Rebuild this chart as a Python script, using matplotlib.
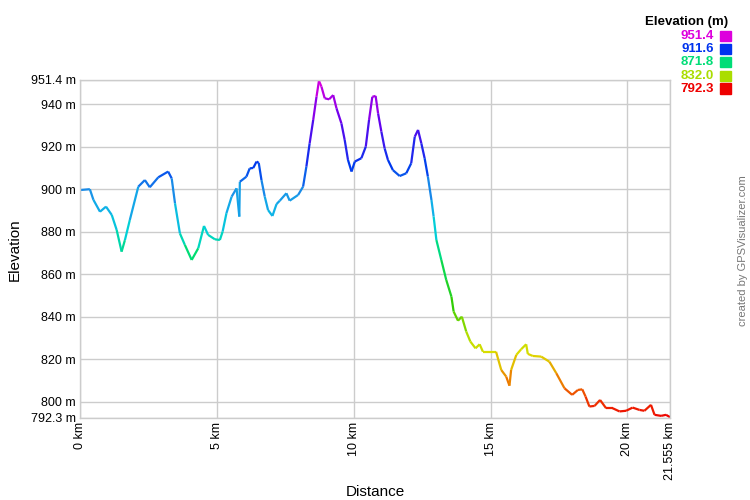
import numpy as np
import matplotlib
matplotlib.use("Agg")
import matplotlib.pyplot as plt
from matplotlib.collections import LineCollection
from matplotlib.colors import LinearSegmentedColormap

plt.rcParams["font.family"] = ["Liberation Sans", "DejaVu Sans"]

# elevation profile
dist_km = [0.0, 0.36, 0.49, 0.73, 0.95, 1.16, 1.34, 1.52, 1.64, 1.82, 2.13, 2.37, 2.55, 2.86,
           3.22, 3.35, 3.47, 3.65, 3.83, 4.08, 4.32, 4.53, 4.68, 4.93, 5.11, 5.21, 5.35, 5.54,
           5.72, 5.82, 5.84, 6.08, 6.2, 6.33, 6.45, 6.53, 6.63, 6.75, 6.87, 7.03, 7.18, 7.3,
           7.54, 7.66, 7.97, 8.15, 8.27, 8.39, 8.52, 8.64, 8.73, 8.82, 8.94, 9.1, 9.25, 9.37,
           9.55, 9.67, 9.79, 9.92, 10.04, 10.28, 10.44, 10.56, 10.68, 10.8, 10.89, 11.01, 11.13,
           11.25, 11.43, 11.68, 11.92, 12.1, 12.23, 12.35, 12.47, 12.59, 12.71, 12.84, 12.92,
           13.02, 13.2, 13.38, 13.57, 13.65, 13.81, 13.95, 14.11, 14.26, 14.45, 14.6, 14.72,
           14.96, 15.2, 15.39, 15.57, 15.69, 15.75, 15.94, 16.12, 16.3, 16.36, 16.54, 16.85,
           17.15, 17.4, 17.7, 17.98, 18.19, 18.35, 18.47, 18.61, 18.8, 19.0, 19.22, 19.46,
           19.71, 19.95, 20.19, 20.44, 20.62, 20.86, 20.99, 21.23, 21.41, 21.555]
elev_m = [899.6, 900.0, 895.0, 889.4, 891.8, 887.9, 880.8, 870.6, 876.0, 885.5, 901.2, 904.3,
          900.9, 905.6, 908.3, 905.1, 893.4, 879.2, 873.8, 866.7, 872.2, 882.7, 878.5, 876.4,
          876.1, 880.0, 888.7, 896.5, 900.4, 887.1, 903.5, 905.9, 909.8, 910.0, 913.0, 912.4,
          904.3, 896.5, 890.2, 887.4, 893.0, 894.6, 898.1, 894.6, 897.3, 901.2, 910.6, 921.6,
          932.6, 943.5, 951.0, 948.3, 942.8, 942.3, 944.3, 938.1, 931.0, 923.2, 913.8, 908.3,
          913.0, 914.6, 920.0, 932.6, 943.5, 943.9, 935.7, 927.1, 919.2, 913.8, 909.0, 906.2,
          907.5, 912.2, 924.7, 927.9, 921.6, 914.6, 905.9, 894.9, 887.1, 876.1, 866.7, 857.3,
          849.4, 842.4, 838.1, 840.0, 833.0, 828.3, 825.1, 827.0, 823.5, 823.5, 823.5, 814.9,
          811.8, 807.5, 814.9, 822.0, 824.7, 827.0, 822.5, 821.5, 821.2, 818.8, 813.4, 806.3,
          803.2, 805.5, 805.8, 802.4, 797.7, 798.0, 800.8, 796.9, 796.9, 795.4, 795.7, 797.2,
          796.1, 795.7, 798.5, 793.8, 793.3, 793.8, 792.7]

y_min, y_max = 792.3, 951.4
x_max = 21.555
y_ticks = [792.3, 800, 820, 840, 860, 880, 900, 920, 940, 951.4]
y_labels = ["792.3 m", "800 m", "820 m", "840 m", "860 m", "880 m", "900 m", "920 m", "940 m", "951.4 m"]
x_ticks = [0, 5, 10, 15, 20, 21.555]
x_labels = ["0 km", "5 km", "10 km", "15 km", "20 km", "21.555 km"]
legend_vals = ["951.4", "911.6", "871.8", "832.0", "792.3"]
legend_cols = ["#DD00DD", "#0033EE", "#00DD77", "#AADD00", "#EE0000"]

cmap = LinearSegmentedColormap.from_list("elev", [
    (0.0, "#EE0000"), (0.1, "#EE7000"), (0.19, "#DDDD00"), (0.25, "#AADD00"),
    (0.33, "#33CC00"), (0.48, "#00DD66"), (0.55, "#00D4D4"), (0.62, "#10B0E8"),
    (0.67, "#1A90E8"), (0.75, "#0038EE"), (0.88, "#6600EE"), (1.0, "#DD00DD")])

fig = plt.figure(figsize=(7.5, 5), dpi=100)
ax = fig.add_axes([80 / 750, 1 - 418 / 500, 590 / 750, 338 / 500])

x = np.array(dist_km)
y = np.array(elev_m)
pts = np.column_stack([x, y]).reshape(-1, 1, 2)
segs = np.concatenate([pts[:-1], pts[1:]], axis=1)
mid = (y[:-1] + y[1:]) / 2
lc = LineCollection(segs, cmap=cmap, norm=plt.Normalize(y_min, y_max), linewidth=1.6,
                    capstyle="butt", joinstyle="miter")
lc.set_array(mid)
ax.add_collection(lc)

ax.set_xlim(0, x_max)
ax.set_ylim(y_min, y_max)
ax.set_yticks(y_ticks)
ax.set_yticklabels(y_labels, fontsize=9)
ax.set_xticks(x_ticks)
ax.set_xticklabels(x_labels, fontsize=9, rotation=90)
ax.tick_params(length=0, pad=3)
ax.grid(color="#CCCCCC", linewidth=1)
ax.set_axisbelow(True)
for s in ax.spines.values():
    s.set_color("#CCCCCC")
    s.set_linewidth(1)

fig.text(15 / 750, 0.5, "Elevation", rotation=90, fontsize=11, ha="center", va="center")
fig.text(375 / 750, 1 - 492 / 500, "Distance", fontsize=11, ha="center", va="center")

# legend
fig.text(728 / 750, 1 - 21.7 / 500, "Elevation (m)", fontsize=9.5, fontweight="bold",
         ha="right", va="center")
row_y = [36, 49.3, 62.3, 75.7, 88.5]
for val, col, ry in zip(legend_vals, legend_cols, row_y):
    fig.text(714 / 750, 1 - ry / 500, val, fontsize=9.5, fontweight="bold", color=col,
             ha="right", va="center")
    fig.patches.append(plt.Rectangle((720 / 750, 1 - (ry + 5) / 500), 11 / 750, 10 / 500,
                                     transform=fig.transFigure, color=col))

fig.text(743 / 750, 249 / 500, "created by GPSVisualizer.com", rotation=90, fontsize=8,
         color="#777777", ha="center", va="center")

plt.savefig("out.png", dpi=100)
